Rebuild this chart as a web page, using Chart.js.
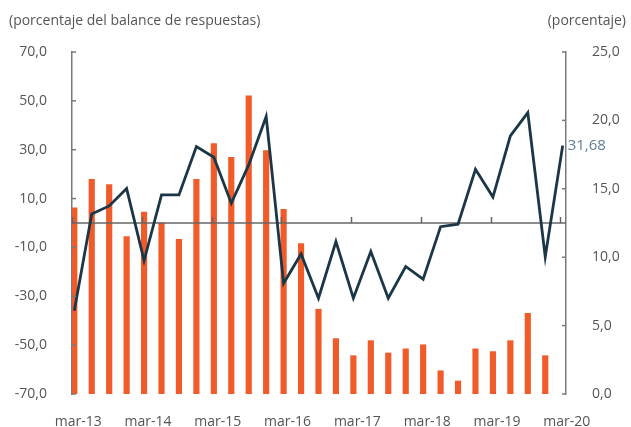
<!DOCTYPE html>
<html>
<head>
<meta charset="utf-8">
<script src="https://cdn.jsdelivr.net/npm/chart.js@4.4.1/dist/chart.umd.min.js"></script>
<style>
  html, body { margin: 0; padding: 0; background: #fff; }
  #wrap { width: 631px; height: 427px; position: relative; }
</style>
</head>
<body>
<div id="wrap"><canvas id="chart" width="631" height="427"></canvas></div>
<script>
// trimestres mar-13 .. mar-20
const categories = [
  "mar-13", "jun-13", "sep-13", "dic-13",
  "mar-14", "jun-14", "sep-14", "dic-14",
  "mar-15", "jun-15", "sep-15", "dic-15",
  "mar-16", "jun-16", "sep-16", "dic-16",
  "mar-17", "jun-17", "sep-17", "dic-17",
  "mar-18", "jun-18", "sep-18", "dic-18",
  "mar-19", "jun-19", "sep-19", "dic-19",
  "mar-20"
];

// balance de respuestas (eje izquierdo)
const balanceValues = [
  -35.9, 3.7, 7.0, 14.1, -15.4, 11.5, 11.5, 31.3,
  26.9, 8.1, 23.8, 43.6, -24.7, -12.7, -30.8, -7.6,
  -30.8, -11.7, -30.8, -17.8, -23.0, -1.5, -0.5, 22.0,
  10.6, 35.7, 45.2, -13.8, 31.68
];

// porcentaje (eje derecho)
const percentValues = [
  13.6, 15.7, 15.3, 11.5, 13.3, 12.5, 11.3, 15.7,
  18.3, 17.3, 21.8, 17.8, 13.5, 11.0, 6.2, 4.05,
  2.8, 3.9, 3.0, 3.3, 3.6, 1.7, 0.95, 3.3,
  3.1, 3.9, 5.9, 2.8, null
];

const leftTicks = [-70, -50, -30, -10, 10, 30, 50, 70];
const rightTicks = [0, 5, 10, 15, 20, 25];
const xTickEvery = 4;

const leftTitle = "(porcentaje del balance de respuestas)";
const rightTitle = "(porcentaje)";
const lastLabel = "31,68";

const theme = {
  bar: "#F15A29",
  line: "#1B3646",
  axis: "#7a7a7a",
  zero: "#666666",
  text: "#555555",
  lastLabel: "#5F7F96",
  font: "'Open Sans', 'DejaVu Sans', sans-serif"
};

const fmt = v => v.toFixed(1).replace(".", ",");

/* --- extras: titles, inner ticks, zero line, last value --- */
const extras = {
  id: "extras",
  beforeDatasetDraw(chart, args) {
    if (args.index !== 0) return;
    // zero line over the bars, under the line
    const y = chart.scales.y.getPixelForValue(0);
    const { left, right } = chart.chartArea;
    const c = chart.ctx;
    c.save();
    c.strokeStyle = theme.zero;
    c.lineWidth = 1.5;
    c.beginPath();
    c.moveTo(left, y);
    c.lineTo(right, y);
    c.stroke();
    // x tick marks on the zero line
    const xs = chart.scales.x;
    for (let i = 0; i < categories.length; i += xTickEvery) {
      const px = Math.round(xs.getPixelForValue(i - 0.13)) + 0.5;
      c.beginPath();
      c.moveTo(px, y);
      c.lineTo(px, y - 6);
      c.stroke();
    }
    c.restore();
  },
  afterDraw(chart) {
    const c = chart.ctx;
    const { left, right } = chart.chartArea;
    c.save();
    c.strokeStyle = theme.axis;
    c.lineWidth = 1.5;
    chart.scales.y.ticks.forEach(t => {
      const py = chart.scales.y.getPixelForValue(t.value);
      c.beginPath(); c.moveTo(left, py); c.lineTo(left + 4, py); c.stroke();
    });
    chart.scales.y1.ticks.forEach(t => {
      const py = chart.scales.y1.getPixelForValue(t.value);
      c.beginPath(); c.moveTo(right, py); c.lineTo(right - 4, py); c.stroke();
    });

    c.fillStyle = theme.text;
    c.font = "14px " + theme.font;
    c.textBaseline = "middle";
    c.textAlign = "left";
    c.fillText(leftTitle, 9, 21);
    c.textAlign = "right";
    c.fillText(rightTitle, 626, 21);

    const pts = chart.getDatasetMeta(0).data;
    const last = pts[pts.length - 1];
    c.fillStyle = theme.lastLabel;
    c.font = "15px " + theme.font;
    c.textAlign = "left";
    c.fillText(lastLabel, last.x + 5, last.y);
    c.restore();
  }
};

const toXY = arr => arr.map((v, i) => ({ x: i, y: v }));

new Chart(document.getElementById("chart").getContext("2d"), {
  type: "bar",
  data: {
    datasets: [
      {
        type: "line",
        label: "Balance",
        data: toXY(balanceValues),
        borderColor: theme.line,
        borderWidth: 2.8,
        pointRadius: 0,
        tension: 0,
        fill: false,
        yAxisID: "y",
        order: 0
      },
      {
        type: "bar",
        label: "Porcentaje",
        data: toXY(percentValues),
        backgroundColor: theme.bar,
        barThickness: 5.5,
        yAxisID: "y1",
        order: 1
      }
    ]
  },
  options: {
    responsive: false,
    animation: false,
    layout: { padding: { top: 52, left: 0, right: 0, bottom: 0 } },
    plugins: {
      legend: { display: false },
      tooltip: { enabled: false }
    },
    scales: {
      x: {
        type: "linear",
        min: -0.132,
        max: 28.19,
        offset: false,
        grid: { display: false, offset: false },
        border: { display: false },
        afterBuildTicks: s => {
          s.ticks = categories.map((c, i) => i).filter(i => i % xTickEvery === 0).map(v => ({ value: v }));
        },
        afterFit: s => { s.height = 33; },
        ticks: {
          callback: v => categories[v],
          color: theme.text,
          font: { family: theme.font, size: 14 },
          padding: 12,
          labelOffset: 4,
          maxRotation: 0,
          autoSkip: false
        }
      },
      y: {
        position: "left",
        min: -70,
        max: 70,
        afterBuildTicks: s => { s.ticks = leftTicks.map(v => ({ value: v })); },
        afterFit: s => { s.width = 72; },
        grid: { display: false },
        border: { display: true, color: theme.axis, width: 1.5 },
        ticks: {
          callback: v => fmt(v),
          color: theme.text,
          font: { family: theme.font, size: 14 },
          padding: 17
        }
      },
      y1: {
        position: "right",
        min: 0,
        max: 25,
        afterBuildTicks: s => { s.ticks = rightTicks.map(v => ({ value: v })); },
        afterFit: s => { s.width = 65; },
        grid: { display: false },
        border: { display: true, color: theme.axis, width: 1.5 },
        ticks: {
          callback: v => fmt(v),
          color: theme.text,
          font: { family: theme.font, size: 14 },
          padding: 18
        }
      }
    }
  },
  plugins: [extras]
});
</script>
</body>
</html>
